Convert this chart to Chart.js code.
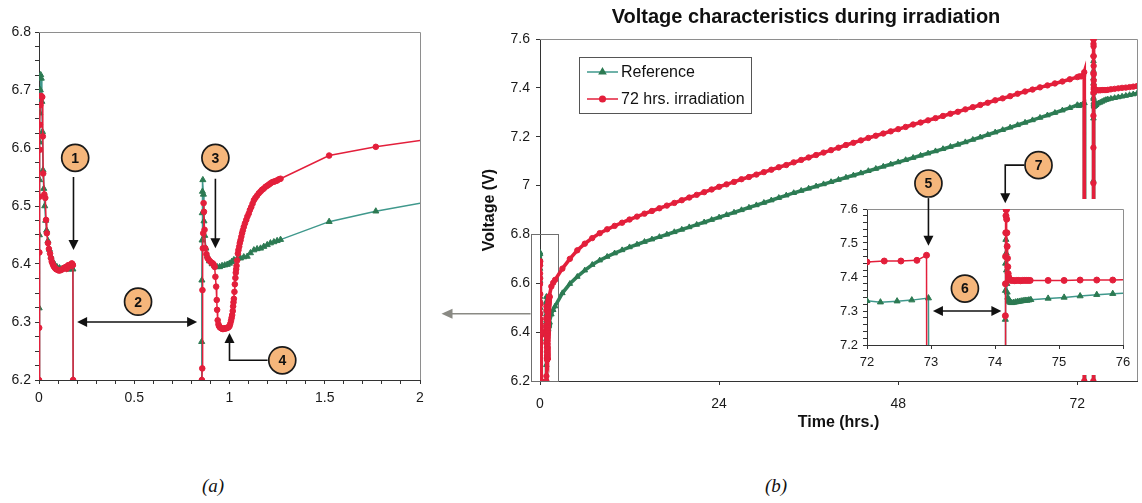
<!DOCTYPE html>
<html><head><meta charset="utf-8">
<script src="https://cdn.jsdelivr.net/npm/chart.js@4.4.1/dist/chart.umd.min.js"></script>
<style>
html,body{margin:0;padding:0;background:#fff;}
#wrap{position:relative;width:1142px;height:503px;overflow:hidden;background:#fff;}
canvas{position:absolute;}
.cap{position:absolute;font-family:'Liberation Serif','Times New Roman',serif;font-style:italic;font-size:19px;color:#111;transform:translateX(-50%);}
</style></head>
<body><div id="wrap">
<canvas id="cA" width="440" height="420" style="left:0px;top:0px"></canvas>
<canvas id="cB" width="712" height="440" style="left:430px;top:0px"></canvas>
<canvas id="cC" width="340" height="230" style="left:800px;top:150px"></canvas>
<div class="cap" style="left:213px;top:475px">(a)</div>
<div class="cap" style="left:776px;top:475px">(b)</div>
</div>
<script>
// ================= DATA =================
const seriesNames = ['Reference', '72 hrs. irradiation'];

// First ~2 h (panel a) – Reference
const refEarlyT = [0,0.001,0.002,0.003,0.004,0.005,0.007,0.009,0.012,0.015,0.018,0.021,0.025,0.03,0.035,0.04,0.047,0.055,0.063,0.072,0.082,0.094,0.108,0.122,0.136,0.15,0.164,0.178,0.18,0.5,0.853,0.854,0.855,0.856,0.857,0.858,0.86,0.863,0.866,0.87,0.876,0.884,0.895,0.909,0.922,0.935,0.948,0.961,0.975,0.988,1.0,1.012,1.023,1.04,1.058,1.075,1.093,1.11,1.128,1.145,1.163,1.18,1.198,1.215,1.233,1.25,1.268,1.523,1.768];
const refEarlyV = [6.2,6.324,6.45,6.545,6.61,6.66,6.70,6.726,6.72,6.68,6.628,6.562,6.53,6.50,6.475,6.458,6.44,6.425,6.413,6.405,6.399,6.395,6.393,6.392,6.392,6.391,6.391,6.391,6.2,null,6.2,6.266,6.372,6.441,6.488,6.525,6.545,6.52,6.474,6.449,6.427,6.414,6.405,6.40,6.397,6.395,6.395,6.397,6.398,6.399,6.401,6.404,6.407,6.409,6.41,6.412,6.413,6.419,6.424,6.426,6.427,6.43,6.433,6.436,6.438,6.44,6.442,6.473,6.491];

// First ~2 h (panel a) – 72 hrs. irradiation
const irrEarlyT = [0,0.001,0.002,0.003,0.004,0.005,0.007,0.011,0.017,0.020,0.022,0.028,0.033,0.037,0.041,0.047,0.052,0.058,0.063,0.067,0.072,0.076,0.08,0.084,0.09,0.097,0.103,0.11,0.117,0.124,0.13,0.137,0.142,0.146,0.15,0.154,0.159,0.163,0.168,0.172,0.175,0.178,0.179,0.5,0.855,0.857,0.858,0.86,0.862,0.864,0.866,0.869,0.873,0.879,0.885,0.892,0.9,0.906,0.912,0.917,0.922,0.926,0.93,0.933,0.935,0.938,0.942,0.945,0.949,0.953,0.958,0.963,0.967,0.972,0.977,0.981,0.986,0.99,0.995,1.0,1.004,1.008,1.011,1.014,1.017,1.019,1.021,1.023,1.026,1.028,1.031,1.033,1.035,1.037,1.04,1.044,1.047,1.051,1.054,1.058,1.062,1.066,1.07,1.075,1.081,1.088,1.094,1.101,1.107,1.114,1.121,1.128,1.136,1.145,1.154,1.163,1.171,1.18,1.189,1.198,1.207,1.215,1.224,1.233,1.242,1.25,1.259,1.268,1.523,1.768];
const irrEarlyV = [6.2,6.29,6.42,6.516,6.597,6.64,6.674,6.69,6.688,6.62,6.556,6.52,6.514,6.476,6.453,6.436,6.426,6.418,6.41,6.404,6.4,6.397,6.395,6.393,6.391,6.39,6.389,6.389,6.39,6.391,6.393,6.394,6.395,6.392,6.396,6.398,6.397,6.396,6.399,6.401,6.4,6.398,6.2,null,6.2,6.22,6.355,6.427,6.453,6.505,6.49,6.459,6.427,6.417,6.41,6.407,6.404,6.402,6.401,6.399,6.395,6.378,6.361,6.338,6.321,6.303,6.296,6.293,6.291,6.29,6.289,6.288,6.288,6.289,6.289,6.289,6.29,6.29,6.291,6.293,6.297,6.302,6.307,6.312,6.319,6.327,6.334,6.34,6.352,6.365,6.376,6.385,6.391,6.397,6.406,6.418,6.424,6.43,6.436,6.441,6.447,6.453,6.458,6.464,6.47,6.476,6.482,6.487,6.493,6.498,6.504,6.51,6.514,6.518,6.522,6.525,6.528,6.53,6.533,6.535,6.537,6.539,6.541,6.542,6.543,6.544,6.546,6.547,6.587,6.602];

// Long run 2 h .. 71 h (panel b)
const longT = [2.02,3,4,5,6,7,8,9,10,11,12,13,14,15,16,17,18,19,20,21,22,23,24,25,26,27,28,29,30,31,32,33,34,35,36,37,38,39,40,41,42,43,44,45,46,47,48,49,50,51,52,53,54,55,56,57,58,59,60,61,62,63,64,65,66,67,68,69,70,71];
const refLongV = [6.506,6.56,6.598,6.627,6.653,6.676,6.694,6.709,6.723,6.736,6.748,6.759,6.77,6.78,6.79,6.8,6.81,6.82,6.83,6.84,6.85,6.86,6.87,6.88,6.89,6.9,6.91,6.92,6.93,6.94,6.95,6.96,6.97,6.979,6.988,6.997,7.006,7.015,7.024,7.033,7.042,7.051,7.06,7.069,7.078,7.087,7.096,7.105,7.114,7.123,7.132,7.141,7.15,7.159,7.168,7.178,7.188,7.198,7.208,7.218,7.228,7.238,7.248,7.258,7.268,7.278,7.288,7.298,7.308,7.318];
const irrLongV = [6.614,6.66,6.70,6.735,6.762,6.785,6.805,6.821,6.835,6.848,6.861,6.873,6.885,6.896,6.907,6.918,6.929,6.94,6.951,6.962,6.973,6.984,6.995,7.005,7.015,7.026,7.035,7.045,7.055,7.065,7.075,7.084,7.095,7.105,7.115,7.125,7.135,7.145,7.155,7.166,7.175,7.185,7.195,7.204,7.213,7.222,7.231,7.24,7.25,7.258,7.267,7.276,7.285,7.294,7.302,7.312,7.321,7.33,7.339,7.349,7.357,7.366,7.376,7.385,7.393,7.402,7.41,7.418,7.426,7.435];

// 72 h .. 76 h detail (inset)
const refInsetT = [72.0,72.21,72.47,72.7,72.96,72.98,73.5,74.155,74.16,74.161,74.163,74.166,74.17,74.175,74.18,74.185,74.19,74.2,74.21,74.22,74.24,74.26,74.29,74.32,74.35,74.38,74.41,74.44,74.47,74.5,74.53,74.56,74.83,75.08,75.33,75.59,75.84];
const refInsetV = [7.33,7.326,7.329,7.332,7.338,6.2,null,6.2,7.02,7.275,7.36,7.44,7.51,7.47,7.42,7.38,7.355,7.34,7.333,7.328,7.325,7.324,7.325,7.326,7.327,7.328,7.329,7.33,7.331,7.331,7.332,7.333,7.337,7.34,7.344,7.348,7.351];
const irrInsetT = [72.0,72.27,72.53,72.78,72.93,72.94,73.5,74.155,74.16,74.161,74.162,74.163,74.165,74.168,74.171,74.174,74.178,74.182,74.186,74.19,74.195,74.2,74.206,74.213,74.22,74.235,74.25,74.28,74.31,74.34,74.37,74.4,74.43,74.46,74.49,74.52,74.55,74.83,75.08,75.33,75.59,75.84];
const irrInsetV = [7.444,7.447,7.447,7.449,7.464,6.2,null,6.2,7.01,7.155,7.286,7.38,7.46,7.53,7.58,7.598,7.598,7.57,7.53,7.49,7.455,7.43,7.41,7.4,7.395,7.392,7.39,7.39,7.389,7.39,7.39,7.389,7.39,7.39,7.39,7.39,7.39,7.39,7.39,7.391,7.391,7.391];

// 76 h .. 80 h
const tailT = [76.09,76.5,77,77.5,78,78.5,79,79.5,80];
const refTailV = [7.353,7.356,7.359,7.362,7.365,7.368,7.371,7.374,7.377];
const irrTailV = [7.392,7.394,7.396,7.398,7.4,7.401,7.403,7.405,7.407];

// Tick labels
const aXTicks = [0, 0.5, 1, 1.5, 2];          const aXLabels = ['0','0.5','1','1.5','2'];
const aYTicks = [6.2, 6.3, 6.4, 6.5, 6.6, 6.7, 6.8]; const aYLabels = ['6.2','6.3','6.4','6.5','6.6','6.7','6.8'];
const bXTicks = [0, 24, 48, 72];               const bXLabels = ['0','24','48','72'];
const bYTicks = [6.2, 6.4, 6.6, 6.8, 7.0, 7.2, 7.4, 7.6]; const bYLabels = ['6.2','6.4','6.6','6.8','7','7.2','7.4','7.6'];
const cXTicks = [72, 73, 74, 75, 76];          const cXLabels = ['72','73','74','75','76'];
const cYTicks = [7.2, 7.3, 7.4, 7.5, 7.6];     const cYLabels = ['7.2','7.3','7.4','7.5','7.6'];

// Annotations (data coordinates)
const aBadges = [{n:'1',t:0.19,v:6.583},{n:'2',t:0.52,v:6.335},{n:'3',t:0.926,v:6.583},{n:'4',t:1.277,v:6.234}];
const aArrows = [
  {path:[[0.181,6.55],[0.181,6.424]], head:'end'},
  {path:[[0.926,6.547],[0.926,6.427]], head:'end'},
  {path:[[0.20,6.30],[0.83,6.30]], head:'both'},
  {path:[[1.2,6.234],[1.0,6.234],[1.0,6.281]], head:'end'}
];
const cBadges = [{n:'5',t:72.96,v:7.675},{n:'6',t:73.53,v:7.366},{n:'7',t:74.68,v:7.729}];
const cArrows = [
  {path:[[72.96,7.632],[72.96,7.492]], head:'end'},
  {path:[[73.03,7.30],[74.1,7.30]], head:'both'},
  {path:[[74.46,7.729],[74.16,7.729],[74.16,7.617]], head:'end'}
];
const zoomBox = {t0:-1.26, t1:2.42, v0:6.2, v1:6.8};
const linkArrow = {tFrom:-1.26, tTo:-13.2, v:6.475};

// ================= STYLE / HELPERS =================
const FONT = "'Liberation Sans', Arial, Helvetica, sans-serif";
Chart.defaults.font.family = FONT;
Chart.defaults.color = '#1a1a1a';
Chart.defaults.animation = false;
const RED = '#e31f3b', GREEN_PT = '#2c7a52', GREEN_LN = '#3f988c', GREEN_BAND = '#2f8058', AXIS = '#333';

function pts(t, v) { return t.map((x, i) => ({x: x, y: v[i]})); }
const refAll = pts([...refEarlyT, ...longT, ...refInsetT, ...tailT], [...refEarlyV, ...refLongV, ...refInsetV, ...refTailV]);
const irrAll = pts([...irrEarlyT, ...longT, ...irrInsetT, ...tailT], [...irrEarlyV, ...irrLongV, ...irrInsetV, ...irrTailV]);

function tickGrid(min, max, step) {
  const out = []; const n = Math.round((max - min) / step);
  for (let i = 0; i <= n; i++) out.push(+(min + i * step).toFixed(6));
  return out;
}
function labelFor(majors, labels) {
  return v => { const i = majors.findIndex(m => Math.abs(m - v) < 1e-6); return i >= 0 ? labels[i] : ''; };
}
function axis(o) {
  const values = o.minor ? tickGrid(o.min, o.max, o.minor) : o.majors;
  const ax = {
    type: 'linear', position: o.position, min: o.min, max: o.max,
    afterBuildTicks: s => { s.ticks = values.map(v => ({value: v})); },
    afterFit: s => { if (o.position === 'left') s.width = o.size; else s.height = o.size; },
    ticks: {callback: labelFor(o.majors, o.labels), autoSkip: false, maxRotation: 0,
            font: {size: o.fontSize}, color: '#1a1a1a', padding: o.pad},
    grid: {drawOnChartArea: false, drawTicks: true, tickLength: 4, color: AXIS},
    border: {display: true, color: AXIS, width: 1}
  };
  if (o.title) ax.title = {display: true, text: o.title, font: {size: 16, weight: 'bold'}, color: '#111', padding: o.titlePad};
  return ax;
}
function datasets(r, clip) {
  return [
    {label: seriesNames[0], data: refAll, order: 1, borderColor: r.gline || GREEN_LN, borderWidth: r.lw,
     pointStyle: 'triangle', pointRadius: r.tri, pointBackgroundColor: GREEN_PT, pointBorderColor: GREEN_PT,
     pointBorderWidth: 1, spanGaps: false, clip: clip},
    {label: seriesNames[1], data: irrAll, order: 0, borderColor: RED, borderWidth: r.lw,
     pointStyle: 'circle', pointRadius: r.dot, pointBackgroundColor: RED, pointBorderColor: RED,
     pointBorderWidth: 1, spanGaps: false, clip: clip}
  ];
}
const framePlugin = {
  id: 'frame',
  beforeDatasetsDraw(chart) {
    const {ctx, chartArea: {left, top, right, bottom}} = chart;
    ctx.save(); ctx.strokeStyle = '#8e8e8e'; ctx.lineWidth = 1;
    ctx.beginPath(); ctx.moveTo(left, Math.round(top) + 0.5); ctx.lineTo(Math.round(right) + 0.5, Math.round(top) + 0.5);
    ctx.lineTo(Math.round(right) + 0.5, bottom); ctx.stroke(); ctx.restore();
  }
};
function head(ctx, x1, y1, x2, y2, len, half) {
  const a = Math.atan2(y2 - y1, x2 - x1), c = Math.cos(a), s = Math.sin(a);
  ctx.beginPath(); ctx.moveTo(x2, y2);
  ctx.lineTo(x2 - len * c + half * s, y2 - len * s - half * c);
  ctx.lineTo(x2 - len * c - half * s, y2 - len * s + half * c);
  ctx.closePath(); ctx.fill();
}
function arrow(ctx, p, kind, color, width, len, half) {
  ctx.save(); ctx.strokeStyle = color; ctx.fillStyle = color; ctx.lineWidth = width;
  const q = p.map(a => a.slice());
  const n = q.length;
  const pull = (a, b) => { const dx = a[0] - b[0], dy = a[1] - b[1], d = Math.hypot(dx, dy) || 1; a[0] -= dx / d * len * 0.6; a[1] -= dy / d * len * 0.6; };
  pull(q[n - 1], q[n - 2]);
  if (kind === 'both') pull(q[0], q[1]);
  ctx.beginPath(); q.forEach((pt, i) => i ? ctx.lineTo(pt[0], pt[1]) : ctx.moveTo(pt[0], pt[1])); ctx.stroke();
  head(ctx, p[n - 2][0], p[n - 2][1], p[n - 1][0], p[n - 1][1], len, half);
  if (kind === 'both') head(ctx, p[1][0], p[1][1], p[0][0], p[0][1], len, half);
  ctx.restore();
}
function badge(ctx, x, y, txt) {
  ctx.save();
  ctx.beginPath(); ctx.arc(x, y, 13.5, 0, Math.PI * 2);
  ctx.fillStyle = '#f5b67b'; ctx.fill();
  ctx.lineWidth = 1.7; ctx.strokeStyle = '#1a1a1a'; ctx.stroke();
  ctx.fillStyle = '#111'; ctx.font = 'bold 14px ' + FONT; ctx.textAlign = 'center'; ctx.textBaseline = 'middle';
  ctx.fillText(txt, x, y + 1);
  ctx.restore();
}
function notesPlugin(badges, arrows) {
  return {
    id: 'notes',
    afterDraw(chart) {
      const xs = chart.scales.x, ys = chart.scales.y, ctx = chart.ctx;
      arrows.forEach(a => arrow(ctx, a.path.map(p => [xs.getPixelForValue(p[0]), ys.getPixelForValue(p[1])]), a.head, '#111', 1.6, 10, 5));
      badges.forEach(b => badge(ctx, xs.getPixelForValue(b.t), ys.getPixelForValue(b.v), b.n));
    }
  };
}

// ================= CHART (a) =================
new Chart(document.getElementById('cA'), {
  type: 'line',
  data: {datasets: datasets({lw: 1.5, tri: 3.5, dot: 2.8}, 0)},
  options: {
    responsive: false, animation: false, parsing: true,
    layout: {padding: {left: 0, top: 32, right: 20, bottom: 6}},
    plugins: {legend: {display: false}, tooltip: {enabled: false}, title: {display: false}},
    scales: {
      x: axis({position: 'bottom', min: 0, max: 2, majors: aXTicks, labels: aXLabels, minor: 0.1, fontSize: 14, pad: 6, size: 34}),
      y: axis({position: 'left', min: 6.2, max: 6.8, majors: aYTicks, labels: aYLabels, minor: 0.025, fontSize: 14, pad: 4, size: 39})
    }
  },
  plugins: [framePlugin, notesPlugin(aBadges, aArrows)]
});

// ================= CHART (b) main =================
const legendBox = {dx: 39, dy: 18, w: 172, h: 56, rows: [15, 42], lineX0: 8, lineX1: 39, textX: 42};
const legendLine = [GREEN_LN, RED];
const boxLegendPlugin = {
  id: 'boxLegend',
  afterDraw(chart) {
    const {ctx, chartArea} = chart;
    const x0 = Math.round(chartArea.left + legendBox.dx), y0 = Math.round(chartArea.top + legendBox.dy);
    ctx.save();
    ctx.fillStyle = '#fff'; ctx.fillRect(x0, y0, legendBox.w, legendBox.h);
    ctx.strokeStyle = '#555'; ctx.lineWidth = 1; ctx.strokeRect(x0 + 0.5, y0 + 0.5, legendBox.w, legendBox.h);
    chart.data.datasets.forEach((ds, i) => {
      const y = y0 + legendBox.rows[i];
      ctx.strokeStyle = legendLine[i]; ctx.lineWidth = 1.5;
      ctx.beginPath(); ctx.moveTo(x0 + legendBox.lineX0, y); ctx.lineTo(x0 + legendBox.lineX1, y); ctx.stroke();
      ctx.fillStyle = ds.pointBackgroundColor; ctx.strokeStyle = ds.pointBorderColor;
      Chart.helpers.drawPoint(ctx, {pointStyle: ds.pointStyle, radius: ds.pointStyle === 'triangle' ? 3.5 : 2.8, rotation: 0, borderWidth: 1},
        x0 + (legendBox.lineX0 + legendBox.lineX1) / 2, y);
      ctx.fillStyle = '#111'; ctx.font = '16px ' + FONT; ctx.textAlign = 'left'; ctx.textBaseline = 'middle';
      ctx.fillText(ds.label, x0 + legendBox.textX, y + 1);
    });
    ctx.restore();
  }
};
const zoomLinkPlugin = {
  id: 'zoomLink',
  beforeDatasetsDraw(chart) {
    const xs = chart.scales.x, ys = chart.scales.y, ctx = chart.ctx;
    const l = Math.round(xs.getPixelForValue(zoomBox.t0)) + 0.5, r = Math.round(xs.getPixelForValue(zoomBox.t1)) + 0.5;
    const t = Math.round(ys.getPixelForValue(zoomBox.v1)) + 0.5, b = Math.round(ys.getPixelForValue(zoomBox.v0)) + 0.5;
    ctx.save(); ctx.strokeStyle = '#6f6f6f'; ctx.lineWidth = 1; ctx.strokeRect(l, t, r - l, b - t); ctx.restore();
    const y = ys.getPixelForValue(linkArrow.v);
    arrow(ctx, [[xs.getPixelForValue(linkArrow.tFrom), y], [xs.getPixelForValue(linkArrow.tTo), y]], 'end', '#8a8a84', 1.5, 11, 5);
  }
};
new Chart(document.getElementById('cB'), {
  type: 'line',
  data: {datasets: datasets({lw: 3.6, tri: 3.2, dot: 2.7, gline: GREEN_BAND})},
  options: {
    responsive: false, animation: false,
    layout: {padding: {left: 42, top: 0, right: 2, bottom: 6}},
    plugins: {
      legend: {display: false}, tooltip: {enabled: false},
      title: {display: true, text: 'Voltage characteristics during irradiation', color: '#111',
              font: {size: 20, weight: 'bold'}, padding: {top: 5, bottom: 10}}
    },
    scales: {
      x: axis({position: 'bottom', min: 0, max: 80, majors: bXTicks, labels: bXLabels, fontSize: 14, pad: 11, size: 53,
               title: 'Time (hrs.)', titlePad: {top: 0, bottom: 2}}),
      y: axis({position: 'left', min: 6.2, max: 7.6, majors: bYTicks, labels: bYLabels, fontSize: 14, pad: 6, size: 68,
               title: 'Voltage (V)', titlePad: {top: 8, bottom: 0}})
    }
  },
  plugins: [framePlugin, zoomLinkPlugin, boxLegendPlugin]
});

// ================= INSET =================
const insetBgPlugin = {
  id: 'insetBg',
  beforeDraw(chart) {
    const {ctx, chartArea} = chart;
    ctx.save(); ctx.fillStyle = '#fff';
    ctx.fillRect(chartArea.left - 45, chartArea.top - 10, chartArea.right - chartArea.left + 59, chart.height - 5 - (chartArea.top - 10));
    ctx.restore();
  }
};
new Chart(document.getElementById('cC'), {
  type: 'line',
  data: {datasets: datasets({lw: 1.5, tri: 3.5, dot: 3}, 0)},
  options: {
    responsive: false, animation: false,
    layout: {padding: {left: 0, top: 59, right: 17, bottom: 5}},
    plugins: {legend: {display: false}, tooltip: {enabled: false}, title: {display: false}},
    scales: {
      x: axis({position: 'bottom', min: 72, max: 76, majors: cXTicks, labels: cXLabels, fontSize: 13, pad: 6, size: 30}),
      y: axis({position: 'left', min: 7.2, max: 7.6, majors: cYTicks, labels: cYLabels, minor: 0.02, fontSize: 13, pad: 5, size: 67})
    }
  },
  plugins: [insetBgPlugin, framePlugin, notesPlugin(cBadges, cArrows)]
});
</script>
</body></html>
